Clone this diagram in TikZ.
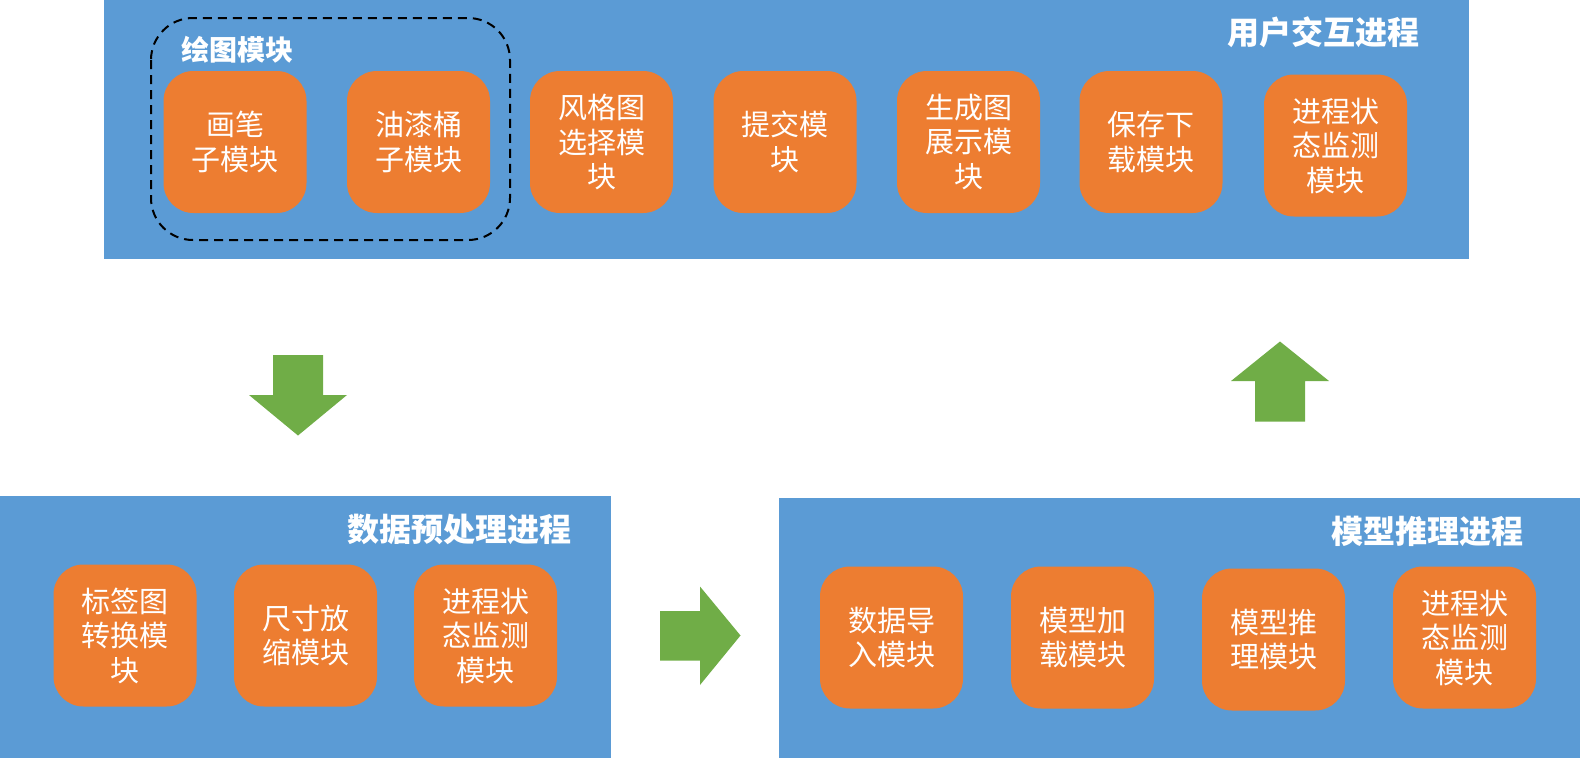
\documentclass[tikz,border=0pt]{standalone}
\usepackage{fontspec}
\setmainfont{Noto Sans CJK SC}
\definecolor{pblue}{HTML}{5B9BD5}
\definecolor{porange}{HTML}{ED7D31}
\definecolor{pgreen}{HTML}{70AD47}
\tikzset{
  panel/.style={fill=pblue, draw=none},
  modbox/.style={fill=porange, draw=none, rounded corners=30pt, minimum width=143pt, minimum height=142pt,
    inner sep=0pt, align=center, text=white, font=\fontsize{29}{34.5}\selectfont},
  ptitle/.style={text=white, inner sep=0pt, font=\bfseries\fontsize{32}{36}\selectfont},
  gtitle/.style={text=white, inner sep=0pt, font=\bfseries\fontsize{28}{32}\selectfont},
  blockarrow/.style={fill=pgreen, draw=none},
  group/.style={draw=black, line width=2pt, dash pattern=on 9pt off 6pt, rounded corners=42pt}
}
\begin{document}
\begin{tikzpicture}[x=1pt, y=-1pt]
\useasboundingbox (0,0) rectangle (1580,758);
% panels
\fill[panel] (104,0) rectangle (1469,259);
\fill[panel] (0,496) rectangle (611,758);
\fill[panel] (779,498) rectangle (1580,758);
% titles
\node[ptitle] (t1) at (1323,32) {用户交互进程};
\node[ptitle] (t2) at (459,529) {数据预处理进程};
\node[ptitle] (t3) at (1427,531) {模型推理进程};
% group
\draw[group] (151,18) rectangle (510,240);
\node[gtitle] (g) at (237,50) {绘图模块};
% top row
\node[modbox] (a1) at (235,142) {画笔\\子模块};
\node[modbox] (a2) at (418.5,142) {油漆桶\\子模块};
\node[modbox] (a3) at (601.5,142) {风格图\\选择模\\块};
\node[modbox] (a4) at (785,142) {提交模\\块};
\node[modbox] (a5) at (968.5,142) {生成图\\展示模\\块};
\node[modbox] (a6) at (1151,142) {保存下\\载模块};
\node[modbox] (a7) at (1335.5,145.5) {进程状\\态监测\\模块};
% bottom left
\node[modbox] (b1) at (125,635.5) {标签图\\转换模\\块};
\node[modbox] (b2) at (305.5,635.5) {尺寸放\\缩模块};
\node[modbox] (b3) at (485.5,635.5) {进程状\\态监测\\模块};
% bottom right
\node[modbox] (c1) at (891.5,637.5) {数据导\\入模块};
\node[modbox] (c2) at (1082.5,637.5) {模型加\\载模块};
\node[modbox] (c3) at (1273.5,639.5) {模型推\\理模块};
\node[modbox] (c4) at (1464.5,637.5) {进程状\\态监测\\模块};
% block arrows
\fill[blockarrow] (273,355) -- (323,355) -- (323,395) -- (347,395) -- (298,435.5) -- (249,395) -- (273,395) -- cycle;
\fill[blockarrow] (1255,421.5) -- (1305,421.5) -- (1305,381) -- (1329,381) -- (1280,341.5) -- (1231,381) -- (1255,381) -- cycle;
\fill[blockarrow] (660,611) -- (700,611) -- (700,586.5) -- (740.5,635.5) -- (700,685) -- (700,660.5) -- (660,660.5) -- cycle;
\end{tikzpicture}
\end{document}
